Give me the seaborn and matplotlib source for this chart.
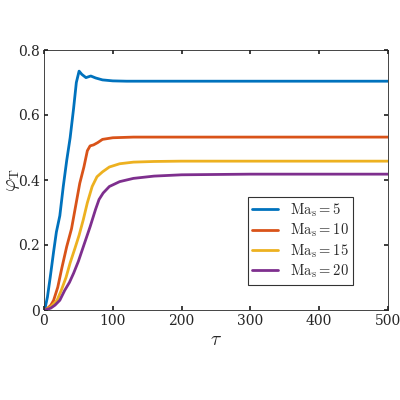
import matplotlib
matplotlib.use("Agg")
import matplotlib.pyplot as plt
import seaborn as sns
import pandas as pd

sns.set_theme(style="ticks")
plt.rcParams['font.family'] = ['DejaVu Serif']
plt.rcParams['mathtext.fontset'] = 'cm'

tau_5 = [0, 2, 5, 9, 14, 18, 23, 28, 33, 38, 43, 47, 51, 55, 61, 68, 75, 85, 100, 120, 200, 300, 400, 500]
phi_5 = [0.0, 0.01, 0.04, 0.10, 0.18, 0.24, 0.29, 0.38, 0.46, 0.53, 0.62, 0.70, 0.735, 0.725, 0.715, 0.72, 0.714, 0.708, 0.705, 0.704, 0.704, 0.704, 0.704, 0.704]
tau_10 = [0, 5, 10, 14, 20, 26, 33, 40, 46, 52, 58, 63, 67, 72, 78, 85, 100, 130, 200, 300, 400, 500]
phi_10 = [0.0, 0.005, 0.015, 0.03, 0.07, 0.13, 0.195, 0.25, 0.32, 0.39, 0.44, 0.49, 0.505, 0.508, 0.515, 0.525, 0.53, 0.532, 0.532, 0.532, 0.532, 0.532]
tau_15 = [0, 5, 10, 19, 25, 32, 38, 45, 51, 57, 63, 70, 77, 85, 95, 110, 130, 160, 200, 300, 400, 500]
phi_15 = [0.0, 0.003, 0.01, 0.03, 0.06, 0.10, 0.145, 0.19, 0.23, 0.277, 0.33, 0.38, 0.41, 0.425, 0.44, 0.45, 0.455, 0.457, 0.458, 0.458, 0.458, 0.458]
tau_20 = [0, 5, 10, 16, 23, 30, 37, 43, 50, 58, 67, 75, 80, 86, 95, 110, 130, 160, 200, 300, 400, 500]
phi_20 = [0.0, 0.002, 0.006, 0.015, 0.03, 0.06, 0.085, 0.113, 0.15, 0.20, 0.256, 0.31, 0.34, 0.36, 0.38, 0.395, 0.405, 0.412, 0.416, 0.418, 0.418, 0.418]

labels = [r'$\mathrm{Ma_s} = 5$', r'$\mathrm{Ma_s} = 10$', r'$\mathrm{Ma_s} = 15$', r'$\mathrm{Ma_s} = 20$']
colors = ['#0072BD', '#D95319', '#EDB120', '#7E2F8E']

frames = []
for t, p, l in zip([tau_5, tau_10, tau_15, tau_20], [phi_5, phi_10, phi_15, phi_20], labels):
    frames.append(pd.DataFrame({'tau': t, 'phi': p, 'case': l}))
df = pd.concat(frames)

fig = plt.figure(figsize=(4, 4), dpi=100)
ax = fig.add_axes([0.11, 0.225, 0.86, 0.65])
sns.lineplot(data=df, x='tau', y='phi', hue='case', palette=colors, linewidth=2, ax=ax, sort=False)
ax.set_xlim(0, 500)
ax.set_ylim(0, 0.8)
ax.set_xticks([0, 100, 200, 300, 400, 500])
ax.set_yticks([0, 0.2, 0.4, 0.6, 0.8])
ax.set_yticklabels(['0', '0.2', '0.4', '0.6', '0.8'])
ax.tick_params(direction='in', length=3, labelsize=10, colors='#262626', top=True, right=True, pad=3)
for s in ax.spines.values():
    s.set_color('#262626')
    s.set_linewidth(0.6)
ax.set_xlabel(r'$\tau$', fontsize=14, labelpad=2)
ax.set_ylabel(r'$\varphi_{\mathrm{T}}$', fontsize=14)
ax.yaxis.set_label_coords(-0.065, 0.5)
leg = ax.legend(loc='lower right', bbox_to_anchor=(0.92, 0.07), fontsize=10.5, frameon=True,
                fancybox=False, edgecolor='black', handlelength=1.8, borderpad=0.3, labelspacing=0.2)
leg.get_frame().set_linewidth(0.8)
fig.savefig('out.png', dpi=100)
